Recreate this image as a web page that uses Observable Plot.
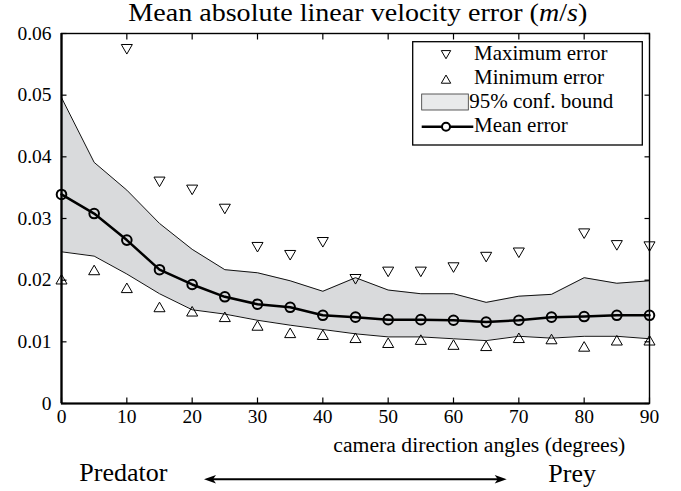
<!DOCTYPE html>
<html><head><meta charset="utf-8">
<script src="https://cdn.jsdelivr.net/npm/d3@7"></script>
<script src="https://cdn.jsdelivr.net/npm/@observablehq/plot@0.6"></script>
<style>html,body{margin:0;padding:0;background:#fff;} svg{display:block}</style>
</head><body><div id="chart"></div>
<script>
// ---- data ----
const angles = [0,5,10,15,20,25,30,35,40,45,50,55,60,65,70,75,80,85,90];
const meanErr = [0.0339,0.0308,0.0265,0.0217,0.0193,0.0173,0.0161,0.0156,0.0143,0.0140,0.0136,0.0136,0.0135,0.0132,0.0135,0.0140,0.0141,0.0143,0.0143];
const upperBound = [0.0496,0.0391,0.0346,0.0292,0.0250,0.0217,0.0212,0.0199,0.0182,0.0204,0.0184,0.0178,0.0178,0.0164,0.0174,0.0177,0.0204,0.0195,0.0199];
const lowerBound = [0.0246,0.0239,0.0210,0.0178,0.0152,0.0145,0.0135,0.0127,0.0120,0.0113,0.0108,0.0108,0.0105,0.0102,0.0109,0.0106,0.0109,0.0109,0.0105];
const maxErr = [null,null,0.0577,0.0362,0.0349,0.0318,0.0256,0.0243,0.0264,0.0204,0.0216,0.0216,0.0223,0.0240,0.0247,null,0.0278,0.0259,0.0257];
const minErr = [0.0199,0.0214,0.0185,0.0154,0.0147,0.0138,0.0124,0.0112,0.0109,0.0104,0.0096,0.0101,0.0093,0.0091,0.0104,0.0102,0.0090,0.0100,0.0100];
const xTicks = [0,10,20,30,40,50,60,70,80,90];
const yTicks = [0,0.01,0.02,0.03,0.04,0.05,0.06];
const yTickLabels = ["0","0.01","0.02","0.03","0.04","0.05","0.06"];
const legendLabels = ["Maximum error","Minimum error","95% conf. bound","Mean error"];
const titleText = "Mean absolute linear velocity error (";
const xLabel = "camera direction angles (degrees)";
const leftLabel = "Predator", rightLabel = "Prey";

const data = angles.map((a,i)=>({angle:a, mean:meanErr[i], upper:upperBound[i], lower:lowerBound[i], max:maxErr[i], min:minErr[i]}));

const triDown = {draw(ctx, size){
  const y = -Math.sqrt(size/(3*Math.sqrt(3)));
  ctx.moveTo(0, -2*y); ctx.lineTo(-Math.sqrt(3)*y, y); ctx.lineTo(Math.sqrt(3)*y, y); ctx.closePath();
}};
const R = 4.1;
const font = "'Liberation Serif','Times New Roman',Times,serif";

const chart = Plot.plot({
  width:681, height:491,
  marginLeft:61, marginRight:32, marginTop:33, marginBottom:88,
  style:{fontFamily:font, fontSize:"19.5px", background:"#fff", color:"#000", overflow:"visible"},
  x:{domain:[0,90]},
  y:{domain:[0,0.06]},
  marks:[
    Plot.areaY(data,{x:"angle", y1:"lower", y2:"upper", fill:"#d9dadc"}),
    Plot.lineY(data,{x:"angle", y:"upper", stroke:"#111", strokeWidth:1}),
    Plot.lineY(data,{x:"angle", y:"lower", stroke:"#111", strokeWidth:1}),
    Plot.lineY(data,{x:"angle", y:"mean", stroke:"#000", strokeWidth:2.5}),
    Plot.dot(data,{x:"angle", y:"mean", r:4.8, stroke:"#000", strokeWidth:2, fill:"none"}),
    Plot.dot(data.filter(d=>d.max!=null),{x:"angle", y:"max", symbol:triDown, r:R, stroke:"#000", strokeWidth:1, fill:"none"}),
    Plot.dot(data,{x:"angle", y:"min", symbol:"triangle", r:R, stroke:"#000", strokeWidth:1, fill:"none"}),
    Plot.frame({stroke:"#000", strokeWidth:1.4}),
    Plot.axisX({ticks:xTicks, anchor:"bottom", tickSize:-5.5, tickPadding:10.7, label:null, fontSize:19.5, stroke:"#000", strokeWidth:1.2}),
    Plot.axisX({ticks:xTicks, anchor:"top", tickSize:-5.5, tickFormat:()=>"", label:null, stroke:"#000", strokeWidth:1.2}),
    Plot.axisY({ticks:yTicks, anchor:"left", tickSize:-5.5, tickPadding:15.5, tickFormat:(d)=>yTickLabels[yTicks.indexOf(d)], label:null, fontSize:19.5, stroke:"#000", strokeWidth:1.2}),
    Plot.axisY({ticks:yTicks, anchor:"right", tickSize:-5.5, tickFormat:()=>"", label:null, stroke:"#000", strokeWidth:1.2}),
    Plot.ruleX([0],{stroke:"#000", strokeWidth:2.2}),
    Plot.ruleY([0],{stroke:"#000", strokeWidth:2.2})
  ]
});
document.getElementById("chart").appendChild(chart);

const svg = d3.select(chart);
const g = svg.append("g").style("font-family", font).style("text-anchor","start").attr("fill","#000");
function txt(parent, x, y, fs){
  return parent.append("text").attr("x",x).attr("y",y)
    .style("font-size", fs+"px").style("text-anchor","start").style("font-family", font);
}

// title
const t = txt(g,128.3,20.7,25).attr("textLength",459).attr("lengthAdjust","spacingAndGlyphs");
t.append("tspan").text(titleText);
t.append("tspan").attr("font-style","italic").text("m");
t.append("tspan").text("/");
t.append("tspan").attr("font-style","italic").text("s");
t.append("tspan").text(")");

// x label
txt(g,333.3,451.5,20.5).attr("textLength",292).attr("lengthAdjust","spacingAndGlyphs").text(xLabel);

// Predator / Prey arrow
txt(g,79.3,481,26).text(leftLabel);
txt(g,548.3,481.5,26).text(rightLabel);
const ay = 479.3, ax1 = 204, ax2 = 506.7;
g.append("line").attr("x1",ax1+6).attr("x2",ax2-6).attr("y1",ay).attr("y2",ay).attr("stroke","#000").attr("stroke-width",2);
g.append("path").attr("d",`M${ax1},${ay}L${ax1+12},${ay-4.2}L${ax1+9},${ay}L${ax1+12},${ay+4.2}Z`).attr("fill","#000");
g.append("path").attr("d",`M${ax2},${ay}L${ax2-12},${ay-4.2}L${ax2-9},${ay}L${ax2-12},${ay+4.2}Z`).attr("fill","#000");

// legend
const L = g.append("g");
L.append("rect").attr("x",412.7).attr("y",41.7).attr("width",229.6).attr("height",103.3)
  .attr("fill","#fff").attr("stroke","#000").attr("stroke-width",1.3);
const size = Math.PI*3.5*3.5;
L.append("path").attr("transform","translate(446,53.3)").attr("d",d3.symbol(triDown,size)()).attr("fill","none").attr("stroke","#000");
L.append("path").attr("transform","translate(446,80.5)").attr("d",d3.symbol(d3.symbolTriangle,size)()).attr("fill","none").attr("stroke","#000");
L.append("rect").attr("x",421.7).attr("y",94).attr("width",46.6).attr("height",16)
  .attr("fill","#e9eaeb").attr("stroke","#333").attr("stroke-width",0.8);
L.append("line").attr("x1",421.7).attr("x2",473.3).attr("y1",126.7).attr("y2",126.7).attr("stroke","#000").attr("stroke-width",2.5);
L.append("circle").attr("cx",446).attr("cy",126.7).attr("r",4).attr("fill","#fff").attr("stroke","#000").attr("stroke-width",2);
const lx = [474,474,469.3,474], lyb = [59.5,83.7,108.3,132.2];
legendLabels.forEach((s,i)=>{ txt(L,lx[i],lyb[i],21).text(s); });
</script>
</body></html>
